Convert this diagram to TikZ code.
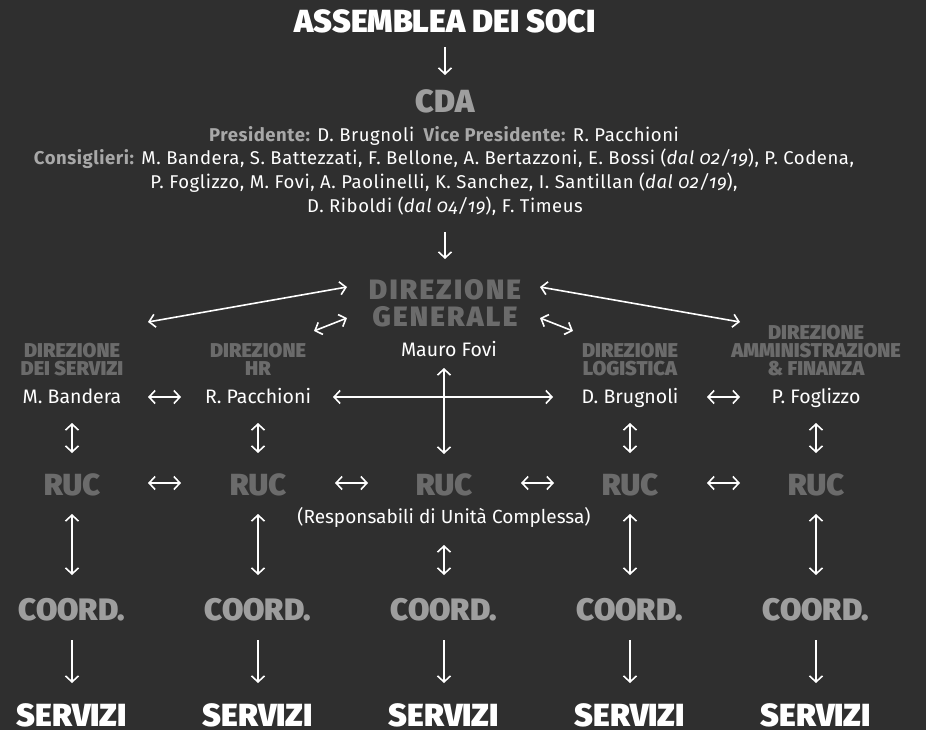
\documentclass[tikz,border=0pt]{standalone}
\usepackage{fontspec}
\setmainfont{Fira Sans}
\IfFontExistsTF{Fira Sans Black}{\newfontfamily\heavyfont{Fira Sans Black}}{%
  \IfFontExistsTF{Fira Sans Heavy}{\newfontfamily\heavyfont{Fira Sans Heavy}}{%
    \IfFontExistsTF{FiraSans-Heavy.otf}{\newfontfamily\heavyfont{FiraSans-Heavy.otf}}{%
      \newcommand\heavyfont{\bfseries}}}}
\usetikzlibrary{arrows.meta}
\definecolor{bgc}{HTML}{2F2F2F}
\definecolor{dgray}{HTML}{6B6B6B}
\definecolor{lgray}{HTML}{9E9E9E}
\definecolor{lblgray}{HTML}{A8A8A8}
\newcommand\cdalbl[1]{{\bfseries\color{lblgray}#1}}
\newcommand\daldate[1]{{\itshape\addfontfeatures{Numbers=OldStyle}#1}}
\begin{document}
\begin{tikzpicture}[x=1pt,y=-1pt,
  every node/.style={inner sep=0pt,outer sep=0pt,anchor=base},
  >={Straight Barb[length=6pt,width=13pt]},
  arr/.style={draw=white,line width=1.6pt,->},
  biarr/.style={draw=white,line width=1.6pt,<->},
  asmh/.style={font=\heavyfont\fontsize{32}{32}\selectfont,text=white},
  cdah/.style={font=\heavyfont\fontsize{32}{32}\selectfont,text=lgray},
  mem/.style={font=\fontsize{18.5}{20}\selectfont\addfontfeatures{LetterSpace=3},text=white},
  dgh/.style={font=\heavyfont\fontsize{28}{27}\selectfont\addfontfeatures{LetterSpace=8},text=dgray},
  subh/.style={font=\heavyfont\fontsize{20}{18}\selectfont,text=dgray},
  namen/.style={font=\fontsize{19.5}{20}\selectfont,text=white},
  respn/.style={font=\fontsize{19}{20}\selectfont,text=white},
  ruch/.style={font=\heavyfont\fontsize{30.5}{32}\selectfont,text=dgray},
  coordh/.style={font=\heavyfont\fontsize{31}{30}\selectfont,text=lgray},
  servh/.style={font=\heavyfont\fontsize{32}{32}\selectfont,text=white}]
\fill[bgc] (0,0) rectangle (926,730);
\useasboundingbox (0,0) rectangle (926,730);

% top
\node[asmh] (asm) at (445,33) {ASSEMBLEA DEI SOCI};
\node[cdah] (cda) at (445,113) {CDA};
\node[mem] (p1) at (444,142) {\cdalbl{Presidente:} D. Brugnoli\hspace{0.5em}\cdalbl{Vice Presidente:} R. Pacchioni};
\node[mem] (p2) at (444,165) {\cdalbl{Consiglieri:} M. Bandera, S. Battezzati, F. Bellone, A. Bertazzoni, E. Bossi (\daldate{dal 02/19}), P. Codena,};
\node[mem] (p3) at (444,189) {P. Foglizzo, M. Fovi, A. Paolinelli, K. Sanchez, I. Santillan (\daldate{dal 02/19}),};
\node[mem] (p4) at (445,212) {D. Riboldi (\daldate{dal 04/19}), F. Timeus};

\node[dgh] (dg1) at (445,299) {DIREZIONE};
\node[dgh] (dg2) at (445,326) {GENERALE};
\node[namen] (mf) at (449,356) {Mauro Fovi};

% sub directions
\node[subh] (ds1) at (72,357) {DIREZIONE};
\node[subh] (ds2) at (72,375) {DEI SERVIZI};
\node[subh] (dh1) at (258,357) {DIREZIONE};
\node[subh] (dh2) at (258,375) {HR};
\node[subh] (dl1) at (630,357) {DIREZIONE};
\node[subh] (dl2) at (630,375) {LOGISTICA};
\node[subh] (da1) at (816,339) {DIREZIONE};
\node[subh] (da2) at (816,357) {AMMINISTRAZIONE};
\node[subh] (da3) at (816,375) {\& FINANZA};

\node[namen] (n1) at (72,403) {M. Bandera};
\node[namen] (n2) at (258,403) {R. Pacchioni};
\node[namen] (n4) at (630,403) {D. Brugnoli};
\node[namen] (n5) at (816,403) {P. Foglizzo};

% RUC, COORD, SERVIZI
\foreach \i/\x in {1/72,2/258,3/444,4/630,5/816}{
  \node[ruch] (r\i) at (\x,495) {RUC};
  \node[coordh] (c\i) at (\x,620) {COORD.};
  \node[servh] (s\i) at (\x,726) {SERVIZI};
}
\node[respn] (resp) at (444,523) {(Responsabili di Unità Complessa)};

% arrows top
\draw[arr] ([shift={(0,14)}]asm.base) -- ([shift={(0,-38)}]cda.base);
\draw[arr] ([shift={(0,20)}]p4.base) -- ([shift={(0,-40)}]dg1.base);

% diagonals
\draw[biarr] ([shift={(76,-35)}]ds1.base) -- ([shift={(-98,-12)}]dg1.base);
\draw[biarr] ([shift={(56,-26)}]dh1.base) -- ([shift={(-98,-8)}]dg2.base);
\draw[biarr] ([shift={(95,-12)}]dg1.base) -- ([shift={(-76,-17)}]da1.base);
\draw[biarr] ([shift={(95,-8)}]dg2.base) -- ([shift={(-57,-26)}]dl1.base);

% names row
\draw[biarr] ([shift={(76,-6)}]n1.base) -- ([shift={(-77,-6)}]n2.base);
\draw[biarr] ([shift={(75,-6)}]n2.base) -- ([shift={(-77,-6)}]n4.base);
\draw[biarr] ([shift={(77,-6)}]n4.base) -- ([shift={(-76,-6)}]n5.base);
\draw[biarr] ([shift={(-5,12)}]mf.base) -- ([shift={(0,-41)}]r3.base);

% names to RUC
\draw[biarr] ([shift={(0,20)}]n1.base) -- ([shift={(0,-42)}]r1.base);
\draw[biarr] ([shift={(0,20)}]n2.base) -- ([shift={(0,-42)}]r2.base);
\draw[biarr] ([shift={(0,20)}]n4.base) -- ([shift={(0,-42)}]r4.base);
\draw[biarr] ([shift={(0,20)}]n5.base) -- ([shift={(0,-42)}]r5.base);

% RUC row
\draw[biarr] ([shift={(76,-12)}]r1.base) -- ([shift={(-77,-12)}]r2.base);
\draw[biarr] ([shift={(77,-12)}]r2.base) -- ([shift={(-76,-12)}]r3.base);
\draw[biarr] ([shift={(77,-12)}]r3.base) -- ([shift={(-76,-12)}]r4.base);
\draw[biarr] ([shift={(77,-12)}]r4.base) -- ([shift={(-76,-12)}]r5.base);

% RUC to COORD
\draw[biarr] ([shift={(0,19)}]r1.base) -- ([shift={(0,-45)}]c1.base);
\draw[biarr] ([shift={(0,19)}]r2.base) -- ([shift={(0,-45)}]c2.base);
\draw[biarr] ([shift={(0,22)}]resp.base) -- ([shift={(0,-45)}]c3.base);
\draw[biarr] ([shift={(0,19)}]r4.base) -- ([shift={(0,-45)}]c4.base);
\draw[biarr] ([shift={(0,19)}]r5.base) -- ([shift={(0,-45)}]c5.base);

% COORD to SERVIZI
\foreach \i in {1,...,5}{
  \draw[arr] ([shift={(0,20)}]c\i.base) -- ([shift={(0,-43)}]s\i.base);
}
\end{tikzpicture}
\end{document}
